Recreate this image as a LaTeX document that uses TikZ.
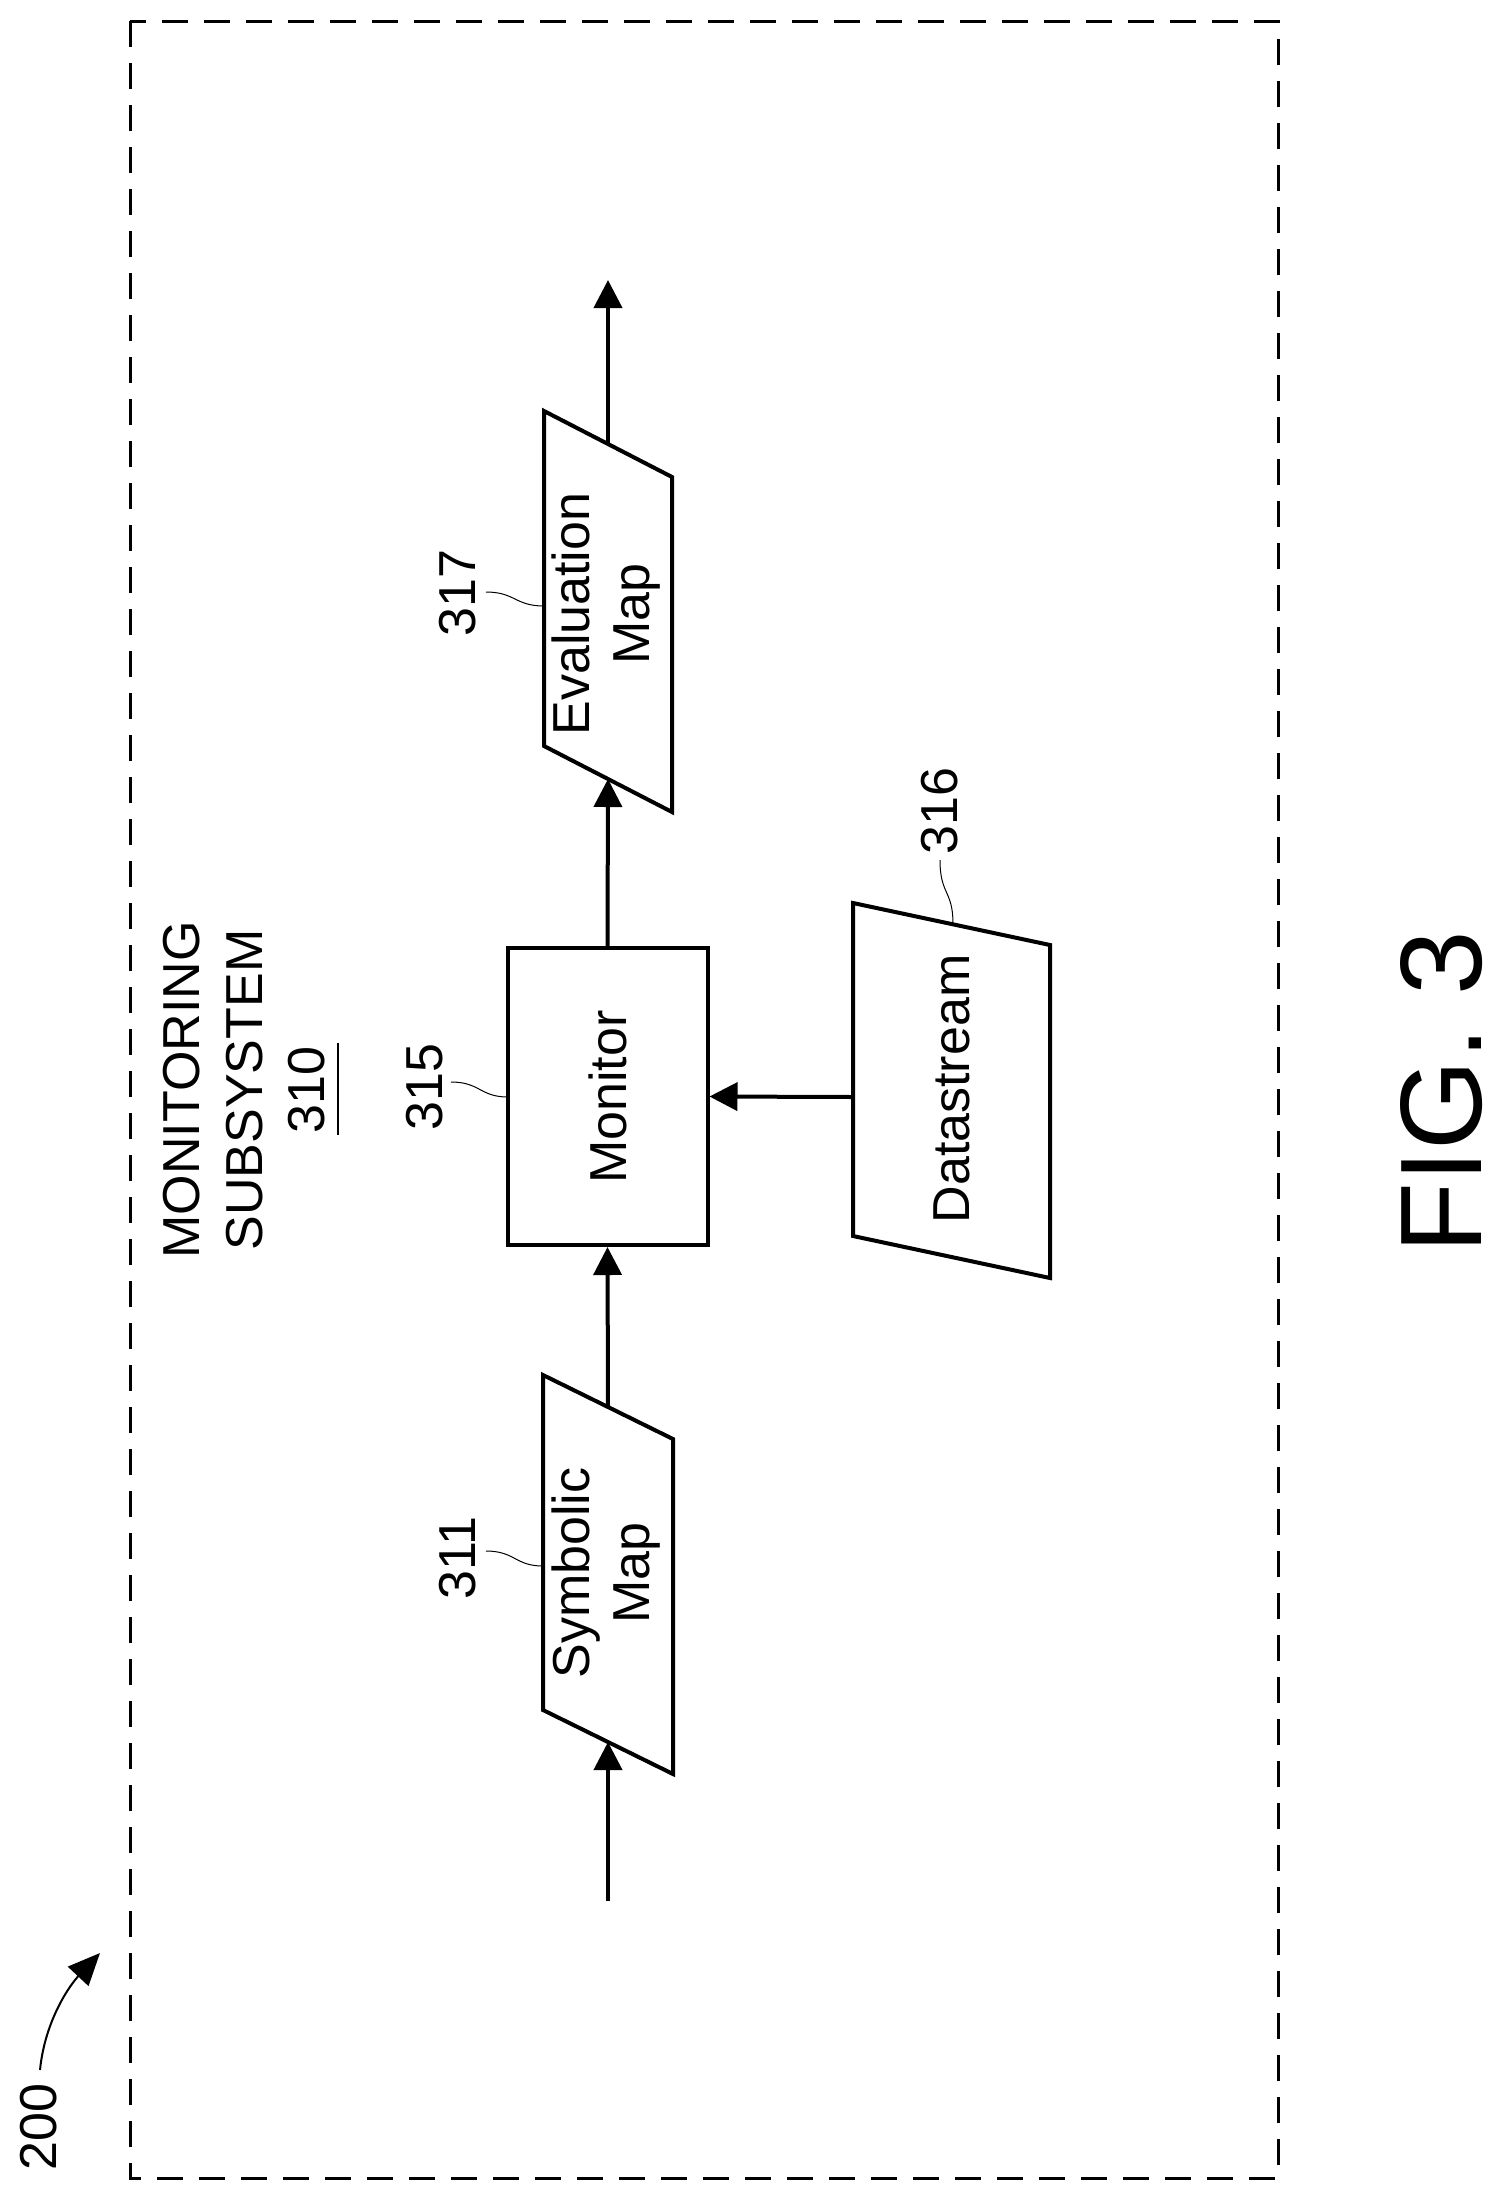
\documentclass[tikz,border=0pt]{standalone}
\usepackage{fontspec}
\setmainfont{Liberation Sans}
\usetikzlibrary{arrows.meta}
\begin{document}
\begin{tikzpicture}[x=0.5pt,y=-0.5pt,
  shp/.style={line width=2pt,line join=miter},
  arr/.style={line width=2pt,-{Triangle[width=14pt,length=14pt]}},
  lead/.style={line width=0.5pt},
  txt/.style={rotate=90,font=\fontsize{26}{30}\selectfont,align=center,inner sep=0},
  lbl/.style={rotate=90,font=\fontsize{26}{30}\selectfont,inner sep=0}]
\useasboundingbox (0,0) rectangle (1505,2201);
\draw[line width=1.5pt,dash pattern=on 13pt off 8pt] (130,21) rectangle (1278,2178);
% symbolic map
\draw[shp] (543,1375) -- (673,1439) -- (673,1774) -- (543,1710) -- cycle;
\coordinate (smB) at (608,1742); \coordinate (smT) at (608,1407);
\coordinate (in) at (608,1901);
\node[txt] (sm) at (606,1573) {Symbolic\\Map};
% monitor
\node[draw,shp,minimum width=100pt,minimum height=148.5pt,inner sep=0] (mon) at (607.5,1096.5) {};
\node[txt] at (608,1097) {Monitor};
% datastream
\draw[shp] (853,903) -- (1050,945) -- (1050,1278) -- (853,1236) -- cycle;
\coordinate (dsL) at (853,1097);
\node[txt] at (952,1089) {Datastream};
% evaluation map
\draw[shp] (544,411) -- (672,477) -- (672,812) -- (544,746) -- cycle;
\coordinate (emB) at (608,779); \coordinate (emT) at (608,444);
\coordinate (out) at (608,280);
\node[txt] at (606,614) {Evaluation\\Map};
% connectors
\draw[arr] (in) -- (smB);
\draw[arr] (smT) -- (mon.south);
\draw[arr] (dsL) -- (mon.east);
\draw[arr] (mon.north) -- (emB);
\draw[arr] (emT) -- (out);
% labels
\node[lbl] (l311) at (458,1558) {311};
\draw[lead] (486,1551) .. controls (515,1551) and (515,1566) .. (543,1566);
\node[lbl] (l315) at (425,1087) {315};
\draw[lead] (451,1082) .. controls (480,1082) and (480,1097) .. (508,1097);
\node[lbl] (l317) at (458,593) {317};
\draw[lead] (486,592) .. controls (515,592) and (515,606) .. (544,606);
\node[lbl] (l316) at (940,811) {316};
\draw[lead] (940,860) .. controls (940,895) and (953,890) .. (953,924);
% title
\node[lbl] at (182,1090) {MONITORING};
\node[lbl] at (245,1090) {SUBSYSTEM};
\node[lbl] (t310) at (307,1090) {310};
\draw[line width=1.2pt] (338,1043) -- (338,1135);
% 200
\node[lbl] (l200) at (39,2127) {200};
\draw[line width=1pt,-{Triangle[width=14pt,length=16pt]}] (40,2070) .. controls (45,2020) and (70,1985) .. (100,1953);
% fig
\node[rotate=90,font=\fontsize{58}{64}\selectfont,inner sep=0] at (1442,1092) {FIG. 3};
\end{tikzpicture}
\end{document}
